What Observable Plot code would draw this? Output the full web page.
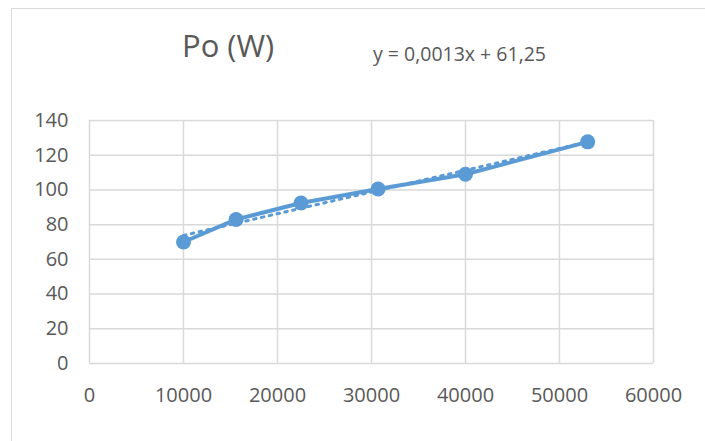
<!DOCTYPE html>
<html>
<head>
<meta charset="utf-8">
<script src="https://cdn.jsdelivr.net/npm/d3@7"></script>
<script src="https://cdn.jsdelivr.net/npm/@observablehq/plot@0.6"></script>
<style>
  html, body { margin: 0; padding: 0; background: #fff; }
  #wrap { position: relative; width: 705px; height: 441px; overflow: hidden; font-family: "Open Sans", sans-serif; }
  #border { position: absolute; left: 11px; top: 8px; width: 800px; height: 600px; border-left: 1.5px solid #D9D9D9; border-top: 1.5px solid #D9D9D9; }
  #title { position: absolute; left: 182px; top: 29.5px; font-size: 31px; color: #595959; line-height: 1; white-space: nowrap; }
  #eq { position: absolute; left: 373px; top: 43.5px; font-size: 19.5px; color: #595959; line-height: 1; white-space: nowrap; }
  #chart { position: absolute; left: 0; top: 0; }
</style>
</head>
<body>
<div id="wrap">
  <div id="border"></div>
  <div id="chart"></div>
  <div id="title">Po (W)</div>
  <div id="eq">y = 0,0013x + 61,25</div>
</div>
<script>
const xValues = [10000, 15600, 22500, 30700, 40000, 53000];
const yValues = [70, 83, 92.5, 100.5, 109, 127.7];
const xTicks = [0, 10000, 20000, 30000, 40000, 50000, 60000];
const yTicks = [0, 20, 40, 60, 80, 100, 120, 140];

const data = xValues.map((x, i) => ({x, y: yValues[i]}));
const blue = "#5B9BD5";
const grid = "#D9D9D9";
const txt = "#595959";

const chart = Plot.plot({
  width: 705,
  height: 441,
  marginLeft: 89,
  marginRight: 52,
  marginTop: 120,
  marginBottom: 78,
  style: { fontFamily: "Open Sans, sans-serif", color: txt, background: "transparent" },
  x: { domain: [0, 60000] },
  y: { domain: [0, 140] },
  marks: [
    Plot.gridX(xTicks, { stroke: grid, strokeOpacity: 1, strokeWidth: 1.5 }),
    Plot.gridY(yTicks, { stroke: grid, strokeOpacity: 1, strokeWidth: 1.5 }),
    Plot.axisX({ ticks: xTicks, tickFormat: d3.format("d"), tickSize: 0, tickPadding: 24, fontSize: 20, fill: txt, label: null }),
    Plot.axisY({ ticks: yTicks, tickFormat: d3.format("d"), tickSize: 0, tickPadding: 21, fontSize: 20, fill: txt, label: null }),
    Plot.line(data, { x: "x", y: "y", stroke: blue, strokeWidth: 4 }),
    Plot.dot(data, { x: "x", y: "y", r: 7.5, fill: blue, stroke: "none" }),
    Plot.linearRegressionY(data, { x: "x", y: "y", stroke: blue, strokeWidth: 3, strokeDasharray: "2.5 5.5", ci: 0 })
  ]
});
document.getElementById("chart").appendChild(chart);
</script>
</body>
</html>
